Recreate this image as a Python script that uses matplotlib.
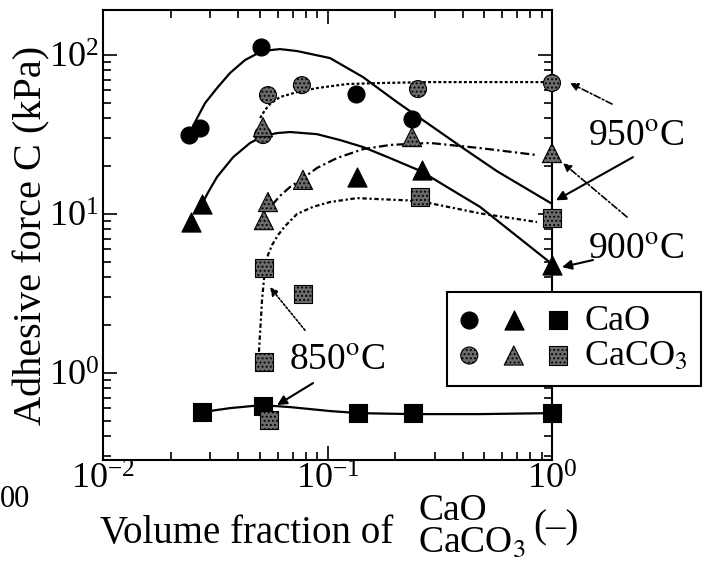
import numpy as np
import matplotlib
matplotlib.use('Agg')
import matplotlib.pyplot as plt
from matplotlib.legend_handler import HandlerTuple

plt.rcParams['font.family'] = ['Liberation Serif', 'DejaVu Serif']
plt.rcParams['mathtext.fontset'] = 'stix'
plt.rcParams['axes.unicode_minus'] = False
plt.rcParams['hatch.linewidth'] = 0.9

# ------------------------------------------------------------
# Measured points (volume fraction, adhesive force kPa)
# ------------------------------------------------------------
# 950 C
cao950_x = [0.0242, 0.0270, 0.0506, 0.134, 0.238]
cao950_y = [31.4, 34.8, 112, 56.9, 39.5]
caco950_x = [0.0543, 0.0769, 0.0516, 0.253, 1.0]
caco950_y = [56.0, 64.7, 31.4, 61.1, 66.7]
# 900 C
cao900_x = [0.0247, 0.0276, 0.135, 0.264, 1.0]
cao900_y = [8.91, 11.6, 17.1, 18.9, 4.77]
caco900_x = [0.0516, 0.0521, 0.0543, 0.0778, 0.238, 1.0]
caco900_y = [35.2, 9.16, 11.9, 16.4, 30.5, 24.2]
# 850 C
cao850_x = [0.0276, 0.0516, 0.137, 0.240, 1.0]
cao850_y = [0.569, 0.619, 0.560, 0.560, 0.560]
caco850_x = [0.0548, 0.0521, 0.0521, 0.0778, 0.258, 1.0]
caco850_y = [0.506, 1.17, 4.57, 3.14, 12.8, 9.44]

# Hand-drawn trend curves
fit_cao950_x = [0.0257, 0.0285, 0.0322, 0.0368, 0.0429, 0.0511, 0.0614, 0.0731,
                0.1026, 0.1439, 0.2040, 0.2861, 0.4015, 0.5689, 1.0]
fit_cao950_y = [37.9, 49.9, 62.0, 77.1, 93.0, 106, 109, 106,
                95.7, 72.7, 50.6, 36.3, 26.0, 18.6, 11.6]
fit_caco950_x = [0.0501, 0.0527, 0.0554, 0.0614, 0.0731, 0.0898, 0.1221, 0.1714,
                 0.2861, 0.5296, 0.98]
fit_caco950_y = [40.2, 45.1, 49.2, 54.4, 58.5, 62.0, 65.7, 66.7, 67.6, 67.6, 67.6]
fit_cao900_x = [0.0270, 0.0294, 0.0322, 0.0380, 0.0452, 0.0516, 0.0596, 0.0681,
                0.0898, 0.1137, 0.1439, 0.1898, 0.2610, 0.3405, 0.4778, 0.6706, 1.0]
fit_cao900_y = [10.9, 13.7, 17.1, 22.8, 28.0, 30.9, 32.3, 32.8,
                31.8, 29.2, 26.4, 22.5, 18.6, 14.8, 11.1, 7.59, 4.85]
fit_caco900_x = [0.0566, 0.0614, 0.0681, 0.0778, 0.0898, 0.1102, 0.1439, 0.1898,
                 0.2861, 0.4778, 0.8574]
fit_caco900_y = [11.4, 13.0, 14.8, 16.8, 19.5, 22.5, 25.6, 27.2, 28.0, 26.0, 23.5]
fit_caco850_x = [0.0495, 0.0511, 0.0527, 0.0543, 0.0566, 0.0602, 0.0647, 0.0731,
                 0.0862, 0.1026, 0.1353, 0.1714, 0.2260, 0.2861, 0.4778, 0.8574]
fit_caco850_y = [1.36, 2.88, 4.58, 5.52, 6.38, 7.38, 8.40, 10.0,
                 11.1, 11.9, 12.6, 12.4, 12.2, 11.7, 10.1, 8.91]
fit_cao850_x = [0.0276, 0.0368, 0.0511, 0.0681, 0.1026, 0.137, 0.240, 0.4778, 1.0]
fit_cao850_y = [0.568, 0.602, 0.629, 0.611, 0.577, 0.560, 0.552, 0.552, 0.560]

# ------------------------------------------------------------
fig = plt.figure(figsize=(7.08, 5.69), dpi=100)
ax = fig.add_axes([103/708, 1-460/569, 449/708, 450/569])
ax.set_xscale('log')
ax.set_yscale('log')
ax.set_xlim(0.01, 1.0)
ax.set_ylim(0.284, 192)

lw = 1.6
ax.plot(fit_cao950_x, fit_cao950_y, 'k-', lw=lw, zorder=1)
ax.plot(fit_cao900_x, fit_cao900_y, 'k-', lw=lw, zorder=1)
ax.plot(fit_cao850_x, fit_cao850_y, 'k-', lw=lw, zorder=1)
ax.plot(fit_caco950_x, fit_caco950_y, color='k', lw=lw, ls=(0, (1.3, 1.0)), zorder=1)
ax.plot(fit_caco900_x, fit_caco900_y, color='k', lw=lw, ls=(0, (4, 1.5, 1, 1.5)), zorder=1)
ax.plot(fit_caco850_x, fit_caco850_y, color='k', lw=lw, ls=(0, (2, 1.2, 1, 1.2)), zorder=1)

solid = dict(c='k', edgecolors='k', linewidths=0.8, zorder=3, clip_on=False)
hatched = dict(facecolors='0.42', edgecolors='k', linewidths=0.8, hatch='....',
               zorder=3, clip_on=False)
sc = 150
st = 190
ss = 170
h_c1 = ax.scatter(cao950_x, cao950_y, marker='o', s=sc, **solid)
h_t1 = ax.scatter(cao900_x, cao900_y, marker='^', s=st, **solid)
h_s1 = ax.scatter(cao850_x, cao850_y, marker='s', s=ss, **solid)
h_c2 = ax.scatter(caco950_x, caco950_y, marker='o', s=sc, **hatched)
h_t2 = ax.scatter(caco900_x, caco900_y, marker='^', s=st, **hatched)
h_s2 = ax.scatter(caco850_x, caco850_y, marker='s', s=ss, **hatched)

# temperature labels
fs = 27
arrow_solid = dict(arrowstyle='-|>', color='k', lw=1.5, mutation_scale=14, shrinkA=0, shrinkB=0)
arrow_dd = dict(arrowstyle='-|>', color='k', lw=1.2, ls=(0, (4, 1.5, 1, 1.5)),
                mutation_scale=12, shrinkA=0, shrinkB=0)
arrow_dot = dict(arrowstyle='-|>', color='k', lw=1.2, ls=(0, (1.2, 1.2)),
                 mutation_scale=12, shrinkA=0, shrinkB=0)

ax.text(2.37, 30.5, '950$^{\\mathrm{o}}$C', fontsize=fs, ha='center', va='center', clip_on=False)
ax.text(2.37, 5.94, '900$^{\\mathrm{o}}$C', fontsize=fs, ha='center', va='center', clip_on=False)
ax.text(0.111, 1.19, '850$^{\\mathrm{o}}$C', fontsize=fs, ha='center', va='center', clip_on=False)

ax.annotate('', xy=(1.042, 12.2), xytext=(2.295, 22.8), arrowprops=arrow_solid, annotation_clip=False)
ax.annotate('', xy=(1.203, 66.7), xytext=(1.85, 49.2), arrowprops=arrow_dd, annotation_clip=False)
ax.annotate('', xy=(1.12, 20.9), xytext=(2.16, 9.57), arrowprops=arrow_dd, annotation_clip=False)
ax.annotate('', xy=(1.108, 4.64), xytext=(1.523, 5.14), arrowprops=arrow_solid, annotation_clip=False)
ax.annotate('', xy=(0.0596, 0.629), xytext=(0.0862, 0.865), arrowprops=arrow_solid, annotation_clip=False)
ax.annotate('', xy=(0.0554, 3.47), xytext=(0.0794, 1.86), arrowprops=arrow_dot, annotation_clip=False)

# axes styling
for sp in ax.spines.values():
    sp.set_linewidth(1.5)
ax.tick_params(which='both', direction='in', top=True, right=True, width=1.2)
ax.tick_params(which='major', length=10, labelsize=26, pad=3)
ax.tick_params(which='minor', length=6)

ax.set_ylabel('Adhesive force C (kPa)', fontsize=29)
ax.yaxis.set_label_coords(-0.118, 0.5)

# x label: "Volume fraction of CaO/CaCO3 (-)"
fig.text(100/708, 1-543/569, 'Volume fraction of', fontsize=28, ha='left', va='baseline')
fig.text(418/708, 1-520/569, 'CaO', fontsize=27, ha='left', va='baseline')
fig.text(418/708, 1-552/569, 'CaCO$_3$', fontsize=27, ha='left', va='baseline')
fig.text(533/708, 1-537/569, '(\u2013)', fontsize=28, ha='left', va='baseline')
fig.text(0, 1-507/569, '00', fontsize=22, ha='left', va='baseline')

leg = ax.legend(handles=[(h_c1, h_t1, h_s1), (h_c2, h_t2, h_s2)],
                labels=['CaO', 'CaCO$_3$'],
                handler_map={tuple: HandlerTuple(ndivide=None, pad=0.7)},
                loc='upper left', bbox_to_anchor=(447/708, 1-292/569),
                bbox_transform=fig.transFigure, scatterpoints=1,
                frameon=True, fancybox=False, edgecolor='k', framealpha=1,
                fontsize=26, handlelength=3.0, handletextpad=0.45,
                borderpad=0.35, labelspacing=0.05, borderaxespad=0)
leg.get_frame().set_linewidth(1.5)
leg.set_zorder(5)

fig.savefig('out.png', dpi=100)
